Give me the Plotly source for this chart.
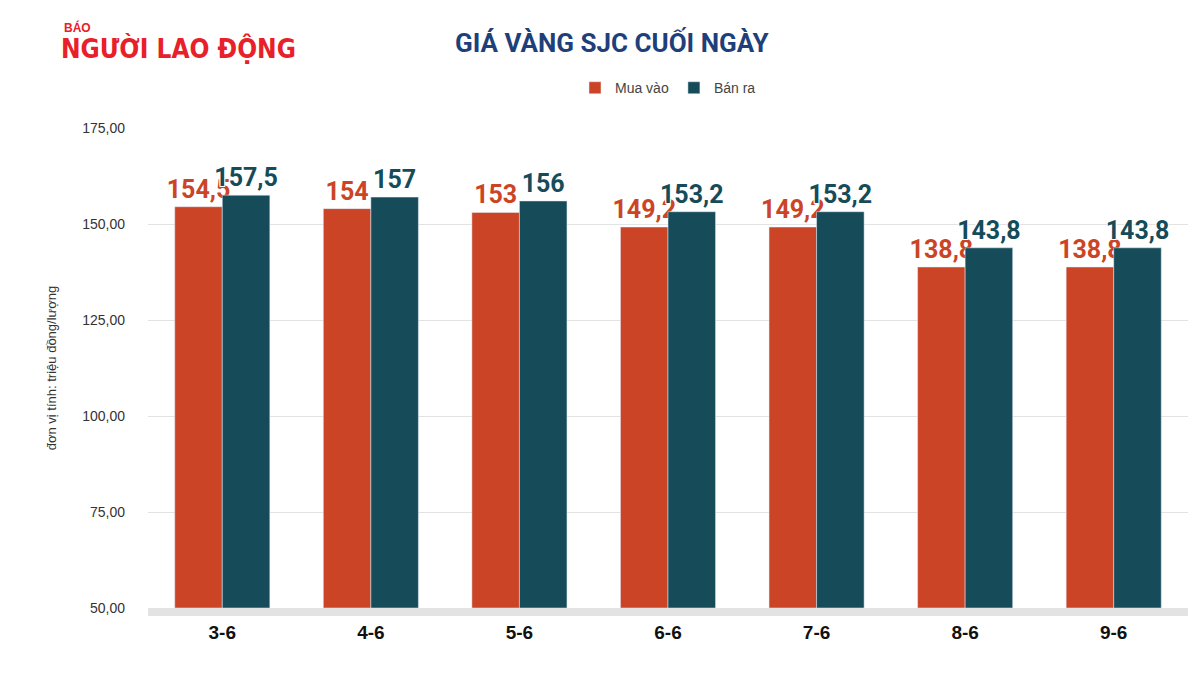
import plotly.graph_objects as go

categories = ["3-6", "4-6", "5-6", "6-6", "7-6", "8-6", "9-6"]
mua_vao = [154.5, 154, 153, 149.2, 149.2, 138.8, 138.8]
ban_ra = [157.5, 157, 156, 153.2, 153.2, 143.8, 143.8]

def fmt(v):
    return ("%g" % v).replace(".", ",")

shadow = "1px 1px 0 #fff, -1px -1px 0 #fff, 1px -1px 0 #fff, -1px 1px 0 #fff"
fig = go.Figure()
fig.add_bar(x=categories, y=[v - 50 for v in mua_vao], base=50, name="Mua vào",
            marker_color="#CB4426", text=[fmt(v) for v in mua_vao], textposition="outside",
            constraintext="none",
            textfont=dict(size=25, color="#CB4426", family="Roboto", weight="bold", shadow=shadow),
            cliponaxis=False)
fig.add_bar(x=categories, y=[v - 50 for v in ban_ra], base=50, name="Bán ra",
            marker_color="#164C5A", text=[fmt(v) for v in ban_ra], textposition="outside",
            constraintext="none",
            textfont=dict(size=25, color="#164C5A", family="Roboto", weight="bold", shadow=shadow),
            cliponaxis=False)

fig.update_layout(
    width=1203, height=690, barmode="group", bargap=0.36, bargroupgap=0,
    plot_bgcolor="white", paper_bgcolor="white",
    margin=dict(l=140, r=23, t=120, b=90),
    separators=",.",
    font=dict(family="Liberation Sans", color="#333"),
    legend=dict(orientation="h", x=0.5, xanchor="center", y=1.083, yanchor="middle",
                font=dict(size=14, color="#444")),
    showlegend=True,
)
fig.update_yaxes(range=[50, 175], dtick=25, tickformat=".2f", showgrid=True,
                 gridcolor="#E3E3E3", zeroline=False, tickfont=dict(size=14, color="#333"),
                 ticklabelstandoff=22,
                 title=dict(text="đơn vị tính: triệu đồng/lượng", font=dict(size=13, color="#333"), standoff=22))
fig.update_xaxes(tickfont=dict(size=19, color="#111", weight="bold"), showline=True,
                 linecolor="#E3E3E3", linewidth=8)
fig.add_annotation(xref="paper", yref="paper", x=0.447, y=1.179, xanchor="center", yanchor="middle",
                   text="<b>GIÁ VÀNG SJC CUỐI NGÀY</b>", showarrow=False,
                   font=dict(size=26, color="#1F3F7A", family="Roboto"))
fig.add_annotation(xref="paper", yref="paper", x=-0.083, y=1.21, xanchor="left", yanchor="middle",
                   text="BÁO", showarrow=False, font=dict(size=12, color="#E8202A", family="Liberation Sans", weight="bold"))
fig.add_annotation(xref="paper", yref="paper", x=-0.086, y=1.165, xanchor="left", yanchor="middle",
                   text="NGƯỜI LAO ĐỘNG", showarrow=False,
                   font=dict(size=26, color="#E8202A", family="DejaVu Sans Condensed", weight="bold"))
fig.write_html("out.html")
